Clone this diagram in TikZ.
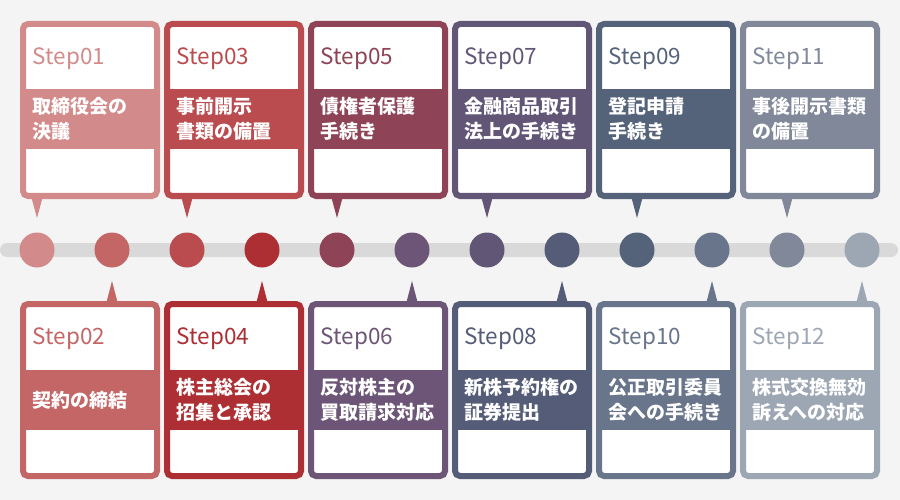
\documentclass[tikz,border=0pt]{standalone}
\usepackage{fontspec}
\setmainfont{Noto Sans CJK JP}
\definecolor{bg}{HTML}{F4F4F4}
\definecolor{bar}{HTML}{D9D9D9}
\definecolor{c01}{HTML}{D38A8B}
\definecolor{c02}{HTML}{C46566}
\definecolor{c03}{HTML}{BA4C4F}
\definecolor{c04}{HTML}{AD2F33}
\definecolor{c05}{HTML}{8E4456}
\definecolor{c06}{HTML}{6C5576}
\definecolor{c07}{HTML}{625677}
\definecolor{c08}{HTML}{555C78}
\definecolor{c09}{HTML}{55637A}
\definecolor{c10}{HTML}{69758A}
\definecolor{c11}{HTML}{808899}
\definecolor{c12}{HTML}{9DA6B3}
\tikzset{
  steplbl/.style={anchor=west, inner sep=0pt, font=\fontsize{22.5}{22.5}\selectfont},
  bandlbl/.style={anchor=west, inner sep=0pt, align=left, text=white, font=\fontsize{19}{25}\selectfont\bfseries},
  cardframe/.style={line width=6pt, fill=white, rounded corners=5pt},
}
\newcommand\topcard[4]{%
  \pgfmathsetmacro\cxA{20+144*#1}%
  \pgfmathsetmacro\cxB{\cxA+140}%
  \pgfmathsetmacro\cpx{37+150*#1}%
  \fill[c#3] (\cpx-6,196) -- (\cpx+6,196) -- (\cpx,218) -- cycle;
  \draw[cardframe, draw=c#3] (\cxA+3,24) rectangle (\cxB-3,196);
  \fill[c#3] (\cxA,89) rectangle (\cxB,149);
  \node[steplbl, text=c#3] (s#3) at (\cxA+12.5,58.5) {Step#3};
  \node[bandlbl] (t#3) at (\cxA+12,119) {#4};
}
\newcommand\botcard[4]{%
  \pgfmathsetmacro\cxA{20+144*#1}%
  \pgfmathsetmacro\cxB{\cxA+140}%
  \pgfmathsetmacro\cpx{112+150*#1}%
  \fill[c#3] (\cpx-6,304) -- (\cpx+6,304) -- (\cpx,281) -- cycle;
  \draw[cardframe, draw=c#3] (\cxA+3,304) rectangle (\cxB-3,476);
  \fill[c#3] (\cxA,370) rectangle (\cxB,430);
  \node[steplbl, text=c#3] (s#3) at (\cxA+12.5,338.5) {Step#3};
  \node[bandlbl] (t#3) at (\cxA+12,400) {#4};
}
\begin{document}
\begin{tikzpicture}[x=1pt,y=-1pt]
\fill[bg] (0,0) rectangle (900,500);
\useasboundingbox (0,0) rectangle (900,500);
\fill[bar, rounded corners=7pt] (0,243) rectangle (898,257);
\foreach \i/\c in {0/01,1/02,2/03,3/04,4/05,5/06,6/07,7/08,8/09,9/10,10/11,11/12}{
  \fill[c\c] (37+75*\i,250) circle (17.5pt) node (d\c) {};
}
\topcard{0}{}{01}{取締役会の\\決議}
\topcard{1}{}{03}{事前開示\\書類の備置}
\topcard{2}{}{05}{債権者保護\\手続き}
\topcard{3}{}{07}{金融商品取引\\法上の手続き}
\topcard{4}{}{09}{登記申請\\手続き}
\topcard{5}{}{11}{事後開示書類\\の備置}
\botcard{0}{}{02}{契約の締結}
\botcard{1}{}{04}{株主総会の\\招集と承認}
\botcard{2}{}{06}{反対株主の\\買取請求対応}
\botcard{3}{}{08}{新株予約権の\\証券提出}
\botcard{4}{}{10}{公正取引委員\\会への手続き}
\botcard{5}{}{12}{株式交換無効\\訴えへの対応}
\end{tikzpicture}
\end{document}
